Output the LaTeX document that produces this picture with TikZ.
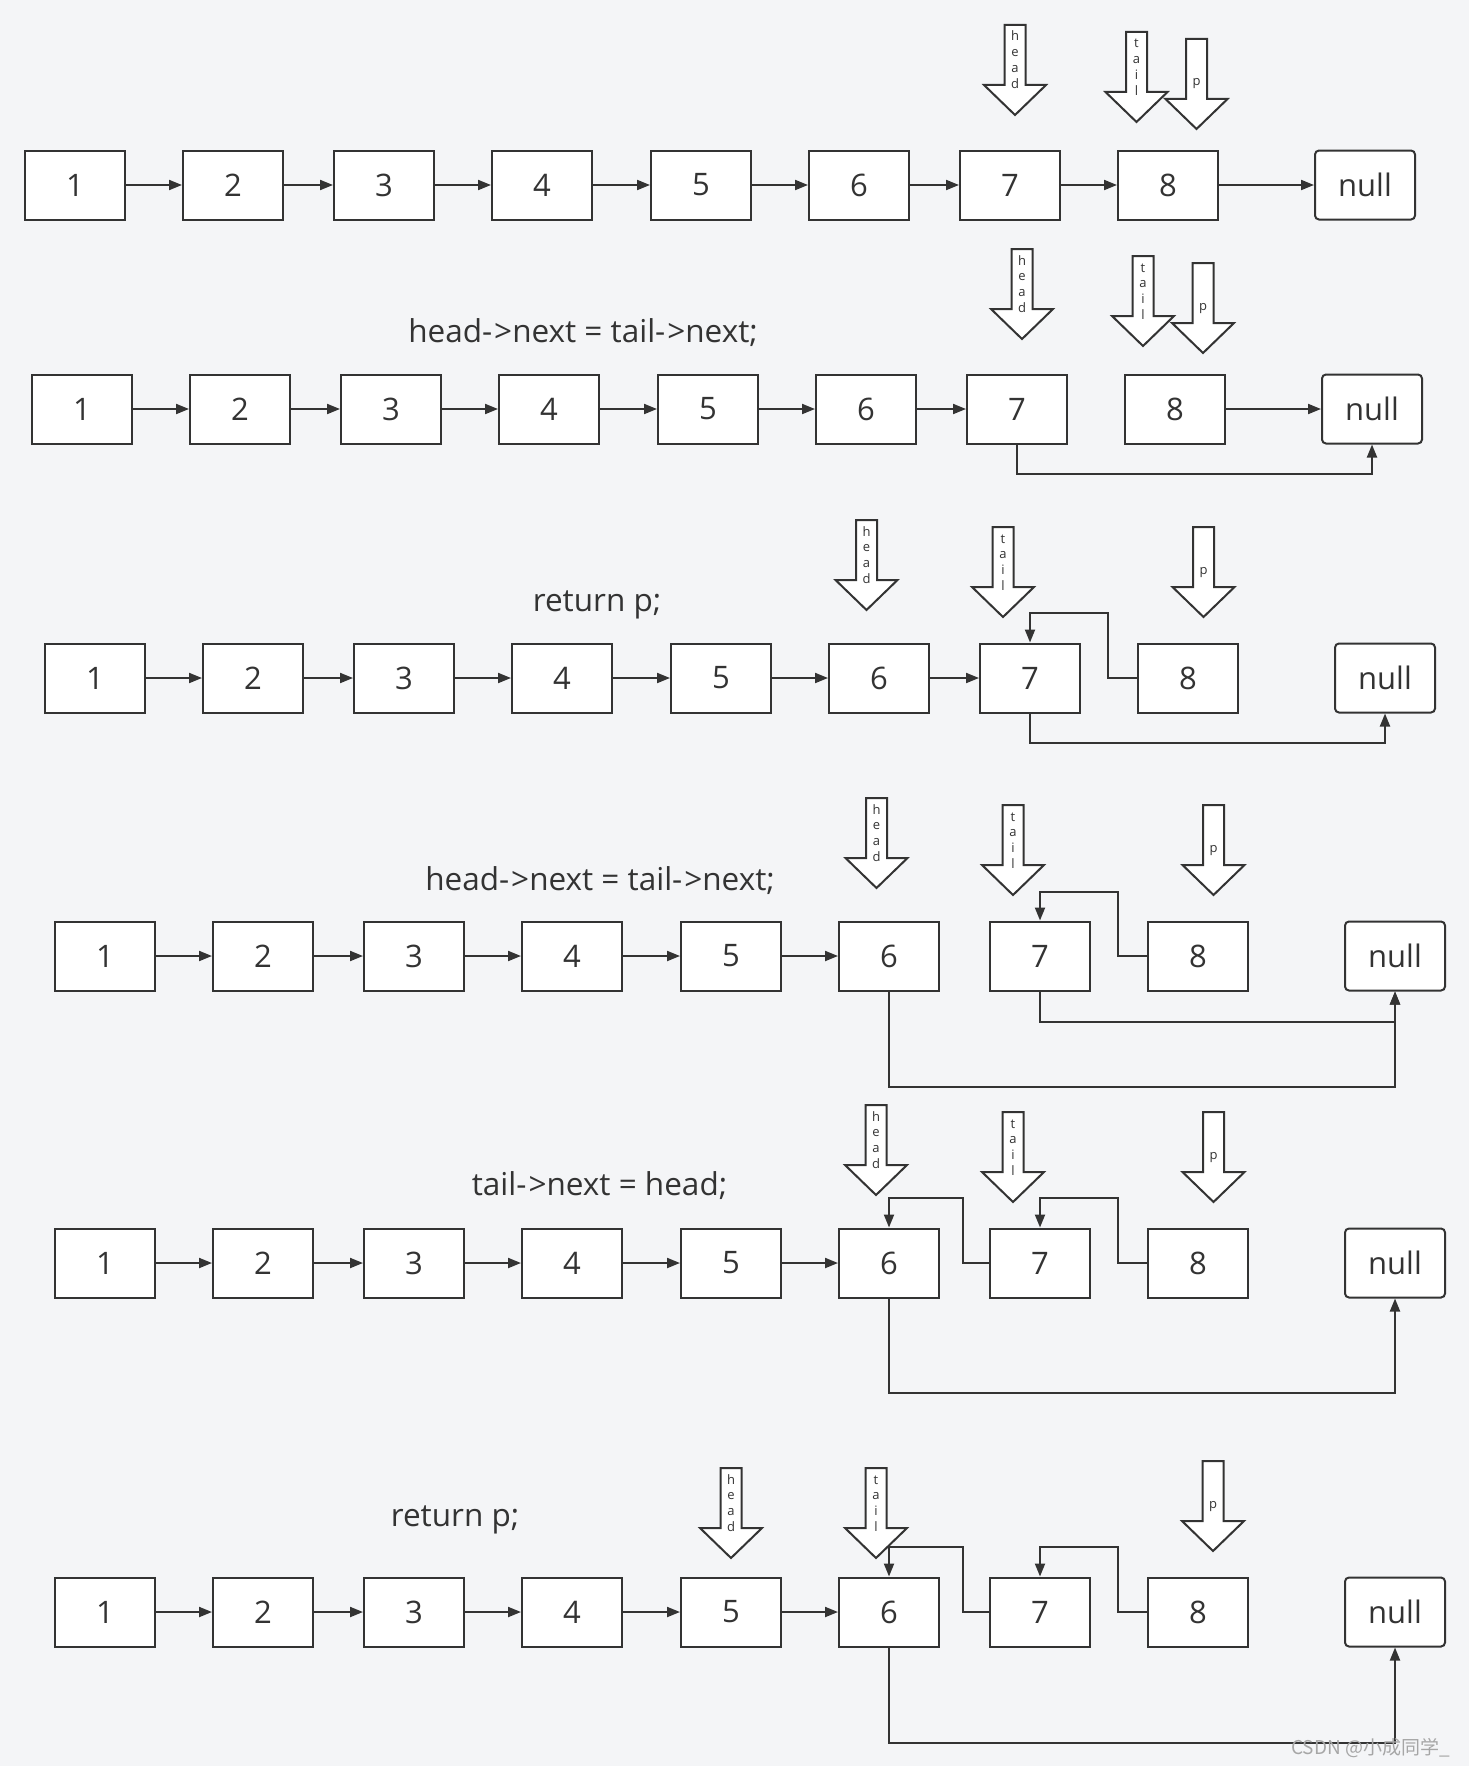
\documentclass[tikz,border=0pt]{standalone}
\usepackage{fontspec}
\setmainfont{Open Sans}
\newfontfamily\cjk{Noto Sans CJK SC}
\usetikzlibrary{arrows.meta}
\definecolor{bgc}{HTML}{F4F5F7}
\definecolor{ink}{HTML}{333333}
\newcommand\arr{-\kern2pt>}
\tikzset{
  box/.style={draw=ink, line width=2pt, fill=white, minimum width=100pt, minimum height=69pt, inner sep=0pt, text=ink, font=\fontsize{31}{37}\selectfont},
  nullbox/.style={box, rounded corners=4pt},
  conn/.style={draw=ink, line width=2pt, -{Triangle[length=13pt,width=10pt]}},
  blk/.style={draw=ink, line width=2pt, fill=white, line join=miter},
  ptxt/.style={anchor=base, inner sep=0pt, text=ink, font=\fontsize{13}{15}\selectfont},
  captxt/.style={anchor=base, inner sep=0pt, text=ink, font=\fontsize{31.5}{37}\selectfont},
}
\newcommand\listrow[3]{%
  \foreach \i/\L in {1/25,2/183,3/334,4/492,5/651,6/809,7/960,8/1118}
    \node[box] (r#1n\i) at ({\L+50+#2},{#3+35}) {\i};
  \node[nullbox] (r#1null) at ({1365+#2},{#3+35}) {null};
}
\newcommand\chain[2]{%
  \foreach \i [evaluate=\i as \j using int(\i+1)] in {1,...,#2}
    \draw[conn] (r#1n\i) -- (r#1n\j);
}
% #1 name, #2 x, #3 top, #4 first baseline offset, #5 letters
\newcommand\pointer[5]{%
  \draw[blk] ({#2-10.5},#3) -- ({#2+10.5},#3) -- ({#2+10.5},{#3+60}) -- ({#2+31},{#3+60})
     -- (#2,{#3+90}) -- ({#2-31},{#3+60}) -- ({#2-10.5},{#3+60}) -- cycle;
  \foreach \c [count=\k] in {#5}
    \node[ptxt] (#1\k) at (#2,{#3+#4+15.7*(\k-1)}) {\c};
}
\begin{document}
\begin{tikzpicture}[x=1pt,y=-1pt]
\fill[bgc] (0,0) rectangle (1469,1766);
\useasboundingbox (0,0) rectangle (1469,1766);

% ---------- row 1 ----------
\listrow{1}{0}{150}
\pointer{ha}{1015}{25}{16}{h,e,a,d}
\pointer{ta}{1136.5}{32}{16}{t,a,i,l}
\pointer{pa}{1196.5}{39}{47}{p}
\chain{1}{7}
\draw[conn] (r1n8) -- (r1null);

% ---------- row 2 ----------
\listrow{2}{7}{374}
\pointer{hb}{1022}{249}{16}{h,e,a,d}
\pointer{tb}{1143}{256}{16}{t,a,i,l}
\pointer{pb}{1203}{263}{47}{p}
\node[captxt] (c2) at (583,342) {head\arr next = tail\arr next;};
\chain{2}{6}
\draw[conn] (r2n8) -- (r2null);
\draw[conn] (r2n7.south) -- ++(0,29) -| (r2null.south);

% ---------- row 3 ----------
\listrow{3}{20}{643}
\pointer{hc}{866.5}{520}{16}{h,e,a,d}
\pointer{tc}{1003}{527}{16}{t,a,i,l}
\pointer{pc}{1203.5}{527}{47}{p}
\node[captxt] (c3) at (597,611) {return p;};
\chain{3}{6}
\draw[conn] (r3n8.west) -- ++(-29,0) |- ([yshift=30pt]r3n7.north) -- (r3n7.north);
\draw[conn] (r3n7.south) -- ++(0,29) -| (r3null.south);

% ---------- row 4 ----------
\listrow{4}{30}{921}
\pointer{hd}{876.5}{798}{16}{h,e,a,d}
\pointer{td}{1013}{805}{16}{t,a,i,l}
\pointer{pd}{1213.5}{805}{47}{p}
\node[captxt] (c4) at (600,890) {head\arr next = tail\arr next;};
\chain{4}{5}
\draw[conn] (r4n8.west) -- ++(-29,0) |- ([yshift=29pt]r4n7.north) -- (r4n7.north);
\draw[conn] (r4n7.south) -- ++(0,30) -| (r4null.south);
\draw[conn] (r4n6.south) -- ++(0,95) -| (r4null.south);

% ---------- row 5 ----------
\listrow{5}{30}{1228}
\pointer{he}{876}{1105}{16}{h,e,a,d}
\pointer{te}{1013}{1112}{16}{t,a,i,l}
\pointer{pe}{1213.5}{1112}{47}{p}
\node[captxt] (c5) at (599.5,1195) {tail\arr next = head;};
\chain{5}{5}
\draw[conn] (r5n7.west) -- ++(-26,0) |- ([yshift=30pt]r5n6.north) -- (r5n6.north);
\draw[conn] (r5n8.west) -- ++(-29,0) |- ([yshift=30pt]r5n7.north) -- (r5n7.north);
\draw[conn] (r5n6.south) -- ++(0,94) -| (r5null.south);

% ---------- row 6 ----------
\listrow{6}{30}{1577}
\pointer{hf}{731}{1468}{16}{h,e,a,d}
\pointer{tf}{876}{1468}{16}{t,a,i,l}
\pointer{pf}{1213}{1461}{47}{p}
\node[captxt] (c6) at (455,1526) {return p;};
\chain{6}{5}
\draw[conn] (r6n7.west) -- ++(-26,0) |- ([yshift=30pt]r6n6.north) -- (r6n6.north);
\draw[conn] (r6n8.west) -- ++(-29,0) |- ([yshift=30pt]r6n7.north) -- (r6n7.north);
\draw[conn] (r6n6.south) -- ++(0,95) -| (r6null.south);

% watermark
\node[anchor=base west, inner sep=0pt, text=black!35, font=\fontsize{19}{22}\selectfont] (wm) at (1291,1754) {\cjk CSDN @小成同学\_};
\end{tikzpicture}
\end{document}
